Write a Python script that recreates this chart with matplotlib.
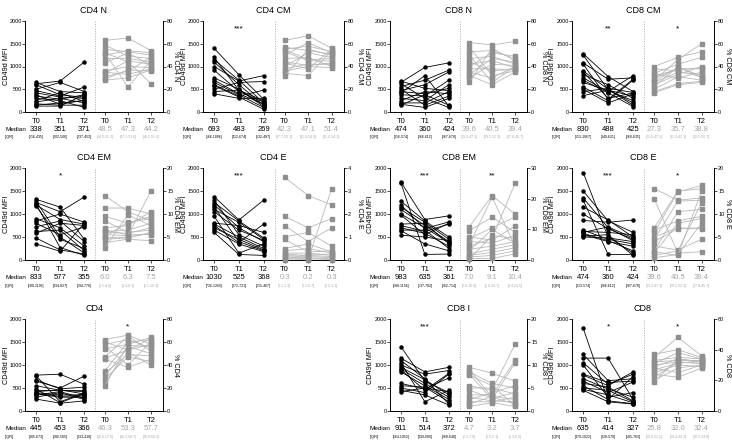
import matplotlib
matplotlib.use("Agg")
import matplotlib.pyplot as plt
import matplotlib.transforms as mtransforms
import numpy as np

plt.rcParams['font.family'] = ['Liberation Sans', 'DejaVu Sans']

timepoints = ["T0", "T1", "T2"]

# each series: [T0 values, T1 values, T2 values], one entry per subject
cd4n_mfi = [[650, 620, 600, 500, 470, 420, 380, 350, 300, 250, 220, 180, 150, 130],
            [450, 680, 380, 650, 350, 330, 170, 280, 250, 420, 300, 150, 200, 130],
            [420, 1100, 320, 450, 550, 300, 260, 380, 100, 230, 200, 150, 250, 380]]
cd4n_pct = [[63, 59, 55, 52, 50, 47, 43, 36, 35, 31, 29, 28, 52, 34],
            [65, 49, 53, 44, 54, 47, 52, 40, 33, 36, 37, 30, 22, 45],
            [54, 47, 50, 25, 52, 44, 41, 39, 38, 48, 36, 37, 45, 42]]

cd4cm_mfi = [[1400, 1200, 1150, 1100, 1000, 920, 750, 700, 650, 600, 580, 500, 450, 400],
             [820, 480, 700, 600, 680, 450, 500, 400, 380, 350, 330, 650, 480, 300],
             [280, 160, 200, 150, 800, 220, 120, 180, 100, 480, 60, 670, 250, 300]]
cd4cm_pct = [[63, 57, 55, 53, 50, 47, 43, 40, 38, 36, 34, 32, 55, 44],
             [67, 54, 58, 45, 61, 48, 38, 52, 42, 40, 32, 55, 46, 41],
             [56, 51, 53, 45, 52, 40, 55, 48, 42, 39, 54, 50, 47, 43]]

cd8n_mfi = [[680, 650, 620, 560, 500, 470, 450, 420, 380, 300, 250, 200, 170, 150],
            [520, 980, 300, 700, 150, 600, 400, 800, 350, 250, 450, 200, 100, 380],
            [470, 1080, 100, 920, 350, 880, 520, 130, 700, 600, 400, 450, 300, 150]]
cd8n_pct = [[61, 57, 53, 50, 47, 44, 42, 40, 38, 33, 32, 30, 26, 35],
            [59, 32, 54, 26, 49, 36, 45, 52, 38, 47, 24, 42, 56, 30],
            [62, 36, 47, 40, 42, 38, 39, 49, 37, 44, 35, 41, 45, 40]]

cd8cm_mfi = [[1280, 1250, 1080, 1050, 900, 880, 820, 750, 700, 650, 550, 500, 450, 360],
             [780, 490, 720, 280, 500, 300, 600, 450, 420, 470, 250, 200, 520, 480],
             [450, 200, 750, 720, 150, 420, 300, 800, 120, 250, 700, 400, 430, 350]]
cd8cm_pct = [[40, 38, 34, 33, 30, 28, 26, 24, 22, 20, 18, 17, 32, 27],
             [48, 36, 42, 30, 38, 46, 35, 33, 40, 31, 25, 24, 37, 39],
             [53, 31, 48, 35, 38, 60, 33, 40, 30, 28, 27, 26, 39, 32]]

cd4em_mfi = [[1320, 1280, 1250, 1220, 1200, 1180, 900, 850, 800, 720, 620, 580, 480, 350],
             [1150, 500, 1050, 270, 880, 450, 700, 1000, 550, 850, 650, 800, 220, 190],
             [450, 150, 1370, 100, 780, 250, 300, 820, 720, 400, 200, 750, 130, 800]]
cd4em_pct = [[14, 11.3, 9.5, 8.5, 7, 6.5, 6.2, 6, 5.5, 5, 4.8, 4.5, 3.8, 2.7],
             [10.5, 11.3, 8, 6, 7.5, 5.5, 6.5, 5.8, 5.3, 8.2, 5, 4.8, 4.5, 9.8],
             [8.5, 10, 9.5, 6.5, 10.5, 5.5, 8, 7, 15, 9, 5.8, 6, 4.2, 7.5]]

cd4e_mfi = [[1380, 1300, 1250, 1200, 1150, 1100, 1050, 950, 800, 780, 750, 700, 650, 600],
            [870, 550, 850, 700, 400, 820, 650, 150, 750, 500, 380, 450, 350, 120],
            [1300, 300, 480, 400, 200, 450, 430, 350, 600, 250, 780, 220, 180, 100]]
cd4e_pct = [[3.6, 1.9, 1.5, 1.0, 0.9, 0.5, 0.4, 0.3, 0.25, 0.2, 0.15, 0.1, 0.05, 0.02],
            [2.8, 1.4, 0.8, 1.2, 0.35, 0.7, 0.5, 0.3, 0.2, 0.15, 0.1, 0.05, 0.02, 0.25],
            [2.4, 1.8, 1.4, 0.6, 0.4, 0.35, 0.3, 0.2, 0.15, 0.1, 0.05, 0.02, 3.1, 0.25]]

cd8em_mfi = [[1700, 1680, 1280, 1200, 1150, 1100, 1000, 980, 780, 750, 700, 650, 640, 540],
             [880, 120, 850, 680, 820, 750, 700, 550, 800, 620, 580, 650, 350, 500],
             [960, 130, 500, 830, 450, 400, 380, 800, 350, 780, 300, 250, 200, 420]]
cd8em_pct = [[10.8, 9.5, 7.5, 7, 6, 5, 4.5, 3.5, 3, 2, 1.5, 1, 0.5, 0.2],
             [21, 14, 6.5, 10.5, 5.5, 20.5, 7, 4.5, 10, 3.5, 2.5, 1.5, 0.5, 8],
             [15, 9, 11, 14, 8, 4.5, 25, 6, 5.5, 5, 4, 3, 2, 7]]

cd8e_mfi = [[1900, 1500, 1350, 1300, 1150, 1000, 860, 650, 620, 600, 580, 550, 520, 500],
            [500, 850, 700, 120, 870, 680, 820, 450, 600, 720, 420, 400, 550, 480],
            [150, 600, 420, 120, 500, 450, 870, 350, 550, 480, 200, 300, 100, 400]]
cd8e_pct = [[15.5, 13.3, 7, 6.5, 6, 5, 4.5, 4, 3, 2, 1.5, 1, 0.5, 1.8],
            [13, 1.5, 15, 8.5, 14.8, 7, 12.8, 6.8, 2.2, 10.5, 8, 2, 1.2, 1],
            [13.5, 1.8, 15.5, 9.5, 16.2, 6.8, 13, 7, 4.5, 11, 9, 12.5, 8, 15]]

cd4_mfi = [[780, 770, 680, 650, 550, 480, 450, 420, 400, 380, 370, 350, 300, 260],
           [800, 200, 480, 500, 450, 180, 440, 460, 350, 320, 300, 420, 400, 170],
           [580, 400, 520, 760, 420, 380, 450, 370, 350, 330, 300, 280, 250, 220]]
cd4_pct = [[62, 60, 58, 56, 54, 47, 45, 35, 33, 30, 28, 25, 22, 46],
           [66, 53, 62, 40, 58, 65, 38, 60, 49, 56, 47, 51, 57, 53],
           [58, 63, 55, 60, 64, 52, 45, 62, 48, 50, 43, 40, 56, 58]]

cd8i_mfi = [[1400, 1150, 1100, 1050, 1000, 950, 920, 900, 850, 600, 550, 500, 450, 420],
            [650, 850, 700, 200, 800, 680, 600, 450, 550, 480, 520, 400, 350, 500],
            [400, 950, 150, 450, 880, 350, 300, 820, 250, 720, 200, 800, 130, 420]]
cd8i_pct = [[9.5, 9, 8.5, 8, 7.8, 5.5, 5, 4.5, 3.5, 3, 2.5, 2, 1.5, 1],
            [8.2, 3, 6, 2.5, 5.5, 4.5, 5, 2.8, 3.5, 2.2, 4, 2, 3.2, 1.8],
            [6.5, 1.5, 5, 10.5, 1.2, 14.5, 3.7, 4, 11, 2, 5.5, 3, 2.5, 1]]

cd8_mfi = [[1800, 1230, 1150, 1050, 1000, 800, 780, 700, 650, 600, 550, 500, 470, 450],
           [220, 660, 1150, 580, 300, 620, 550, 480, 400, 520, 250, 450, 350, 200],
           [160, 700, 250, 800, 400, 650, 850, 300, 630, 220, 750, 200, 180, 150]]
cd8_pct = [[37, 35, 33, 32, 31, 30, 29, 28, 27, 25, 24, 22, 20, 19],
           [40, 48, 35, 33, 38, 32, 34, 25, 31, 30, 22, 32, 28, 34],
           [35, 36, 34, 33, 34, 31, 32, 30, 33, 29, 28, 31, 30, 32]]

panel_names = ["CD4 N", "CD4 CM", "CD8 N", "CD8 CM",
               "CD4 EM", "CD4 E", "CD8 EM", "CD8 E",
               "CD4", "CD8 I", "CD8"]
panel_cells = [(0, 0), (0, 1), (0, 2), (0, 3),
               (1, 0), (1, 1), (1, 2), (1, 3),
               (2, 0), (2, 2), (2, 3)]
mfi_data = [cd4n_mfi, cd4cm_mfi, cd8n_mfi, cd8cm_mfi, cd4em_mfi, cd4e_mfi,
            cd8em_mfi, cd8e_mfi, cd4_mfi, cd8i_mfi, cd8_mfi]
pct_data = [cd4n_pct, cd4cm_pct, cd8n_pct, cd8cm_pct, cd4em_pct, cd4e_pct,
            cd8em_pct, cd8e_pct, cd4_pct, cd8i_pct, cd8_pct]
pct_max = [80, 80, 80, 80, 20, 4, 30, 20, 80, 20, 60]
pct_step = [20, 20, 20, 20, 5, 1, 10, 5, 20, 5, 20]
stars_mfi = ["", "***", "", "**", "*", "***", "***", "***", "", "***", "*"]
stars_pct = ["", "", "", "*", "", "", "**", "*", "*", "", "*"]

median_mfi = [["338", "351", "371"], ["693", "483", "269"], ["474", "360", "424"],
              ["830", "488", "425"], ["833", "577", "355"], ["1030", "525", "368"],
              ["983", "635", "361"], ["474", "360", "424"], ["445", "453", "366"],
              ["911", "514", "372"], ["635", "414", "327"]]
iqr_mfi = [["[216-435]", "[202-506]", "[237-452]"], ["[566-1006]", "[412-674]", "[132-487]"],
           ["[316-574]", "[266-612]", "[267-678]"], ["[553-1067]", "[349-621]", "[260-635]"],
           ["[600-1196]", "[434-827]", "[194-776]"], ["[726-1269]", "[372-721]", "[215-467]"],
           ["[688-1194]", "[537-782]", "[262-714]"], ["[313-574]", "[266-612]", "[267-678]"],
           ["[385-673]", "[286-505]", "[333-418]"], ["[664-1052]", "[430-680]", "[268-648]"],
           ["[479-1022]", "[328-570]", "[185-763]"]]
median_pct = [["48.5", "47.3", "44.2"], ["42.3", "47.1", "51.4"], ["39.6", "40.5", "39.4"],
              ["27.3", "35.7", "38.8"], ["6.0", "6.3", "7.5"], ["0.3", "0.2", "0.3"],
              ["7.0", "9.1", "10.4"], ["39.6", "40.5", "39.4"], ["46.3", "53.3", "57.7"],
              ["4.7", "3.2", "3.7"], ["25.8", "32.0", "32.4"]]
iqr_pct = [["[34.5-55.3]", "[37.1-53.6]", "[36.1-51.3]"], ["[37.7-55.3]", "[41.8-54.9]", "[41.5-54.1]"],
           ["[33.2-47.1]", "[29.5-52.3]", "[37.8-45.7]"], ["[21.6-47.1]", "[31.3-42.1]", "[32.5-50.7]"],
           ["[5.1-8.6]", "[5.4-8.1]", "[6.1-10.3]"], ["[0.1-1.3]", "[0.1-0.7]", "[0.1-1.1]"],
           ["[2.0-10.8]", "[1.8-24.7]", "[3.4-21.5]"], ["[33.2-47.1]", "[29.5-52.3]", "[37.8-45.7]"],
           ["[30.6-57.0]", "[46.3-58.7]", "[45.0-60.3]"], ["[2.1-7.9]", "[2.5-5.1]", "[1.3-6.3]"],
           ["[20.6-31.1]", "[28.4-34.2]", "[30.5-34.8]"]]

W, H = 732, 446
col_px = [(25, 163), (203, 344), (390, 527), (572, 714)]
row_px = [(21, 112), (168, 260), (319, 411)]
llab_off = [19, 18.5, 19, 19]
rlab_off = [13, 15, 16, 13]
x_left = np.array([0.0, 1.0, 2.0])
x_right = np.array([2.85, 3.8, 4.75])
grey_txt = "#a6a6a6"

fig = plt.figure(figsize=(W / 100, H / 100), dpi=100)

for k, name in enumerate(panel_names):
    r, c = panel_cells[k]
    l, rr = col_px[c]
    t, b = row_px[r]
    w = rr - l
    ax = fig.add_axes([l / W, 1 - b / H, w / W, (b - t) / H])
    ax2 = ax.twinx()

    mfi = np.array(mfi_data[k]).T
    pct = np.array(pct_data[k]).T
    for row in mfi:
        ax.plot(x_left, row, color="black", lw=0.6, marker="o", ms=2.2,
                mfc="black", mec="black", clip_on=False, zorder=3)
    for row in pct:
        ax2.plot(x_right, row, color="#b8b8b8", lw=0.6, marker="s", ms=2.4,
                 mfc="#8f8f8f", mec="#8f8f8f", clip_on=False, zorder=3)

    ax.set_xlim(-0.45, 5.25)
    ax.set_ylim(0, 2000)
    ax.set_yticks([0, 500, 1000, 1500, 2000])
    ax2.set_ylim(0, pct_max[k])
    ax2.set_yticks(np.arange(0, pct_max[k] + 0.001, pct_step[k]))
    ax.axvline(2.45, color="#aaaaaa", lw=0.7, ls=(0, (1, 1.5)))

    ax.set_xticks(np.concatenate([x_left, x_right]))
    ax.set_xticklabels(timepoints * 2, fontsize=5.5)
    ax.tick_params(axis="y", labelsize=4, length=2, width=0.5, pad=0.3)
    ax.tick_params(axis="x", length=2, width=0.5, pad=2)
    ax2.tick_params(axis="y", labelsize=4, length=2, width=0.5, pad=1)
    for a in (ax, ax2):
        a.spines["top"].set_visible(False)
        for s in ("left", "right", "bottom"):
            a.spines[s].set_linewidth(0.6)
    ax.set_ylabel("CD49d MFI", fontsize=5.2, va="center")
    ax.yaxis.set_label_coords(-llab_off[c] / w, 0.5)
    ax2.set_ylabel("% " + name, fontsize=5.2, rotation=270, va="center")
    ax2.yaxis.set_label_coords(1 + rlab_off[c] / w, 0.5)
    ax.set_title(name, fontsize=6.5, pad=6)

    if stars_mfi[k]:
        ax.text(1, 1830, stars_mfi[k], ha="center", va="center", fontsize=6)
    if stars_pct[k]:
        ax2.text(3.8, pct_max[k] * 0.915, stars_pct[k], ha="center", va="center", fontsize=6)

    trans = mtransforms.blended_transform_factory(ax.transData, ax.transAxes)
    ax.text(-20 / w, -0.19, "Median", transform=ax.transAxes,
            fontsize=4.6, ha="left", va="center")
    ax.text(-20 / w, -0.28, "[IQR]", transform=ax.transAxes,
            fontsize=2.8, ha="left", va="center")
    for j in range(3):
        ax.text(x_left[j], -0.19, median_mfi[k][j], transform=trans,
                fontsize=5.5, ha="center", va="center", color="black")
        ax.text(x_left[j], -0.28, iqr_mfi[k][j], transform=trans,
                fontsize=2.5, ha="center", va="center", color="black")
        ax.text(x_right[j], -0.19, median_pct[k][j], transform=trans,
                fontsize=5.5, ha="center", va="center", color=grey_txt)
        ax.text(x_right[j], -0.28, iqr_pct[k][j], transform=trans,
                fontsize=2.5, ha="center", va="center", color=grey_txt)

fig.savefig("out.png", dpi=100)
